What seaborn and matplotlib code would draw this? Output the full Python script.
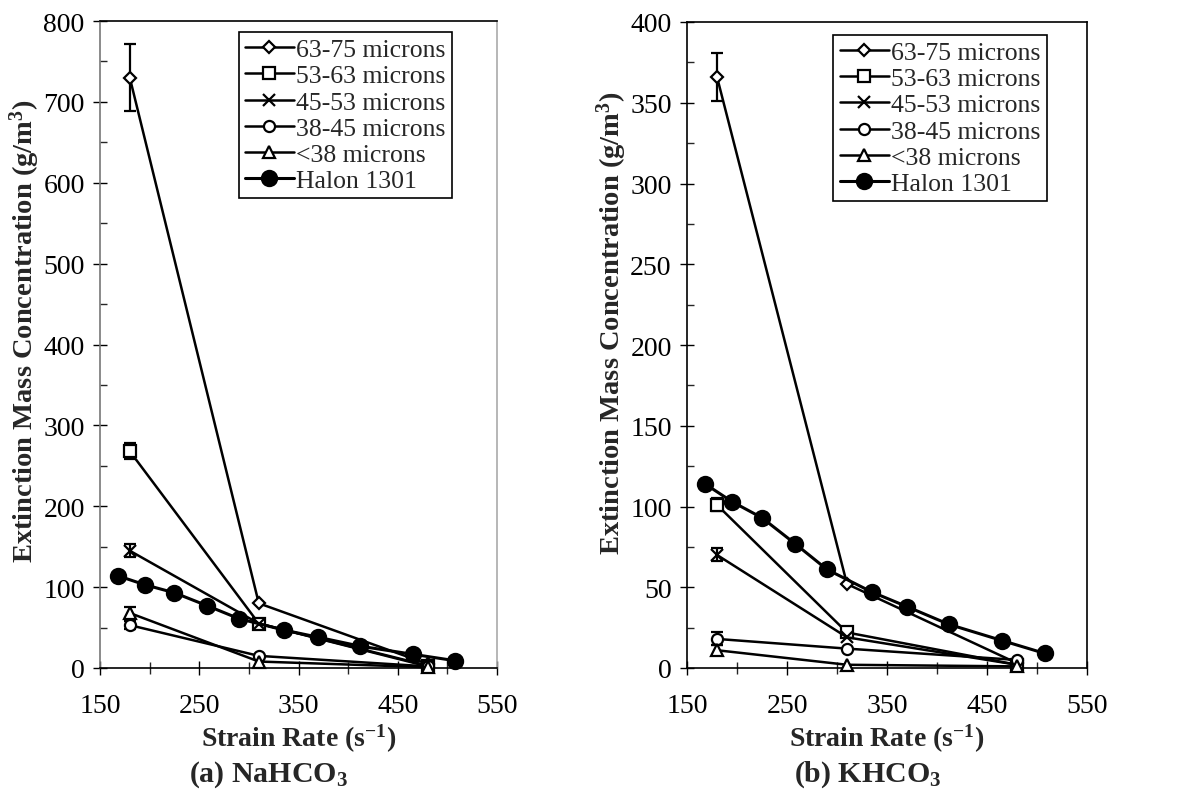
import numpy as np
import pandas as pd
import matplotlib
matplotlib.use("Agg")
import matplotlib.pyplot as plt
from matplotlib.ticker import MultipleLocator, FixedLocator
import seaborn as sns

# ---------------- data ----------------
labels = ["63-75 microns", "53-63 microns", "45-53 microns", "38-45 microns", "<38 microns", "Halon 1301"]
size_x = [180, 310, 480]

na_63_75 = [730, 80, 5]
na_53_63 = [268, 55, 3]
na_45_53 = [145, 55, 2]
na_38_45 = [53, 15, 2]
na_lt38 = [68, 8, 1]
na_err = [41, 10, 8, 5, 8]

k_63_75 = [366, 52, 3]
k_53_63 = [101, 22, 2]
k_45_53 = [70, 19, 2]
k_38_45 = [18, 12, 5]
k_lt38 = [11, 2, 1]
k_err = [15, 4, 4, 4, 3]

halon_x = [168, 195, 225, 258, 290, 335, 370, 412, 465, 508]
halon_y = [114, 103, 93, 77, 61, 47, 38, 27, 17, 9]

# ---------------- style ----------------
sns.set_style("ticks")
plt.rcParams["font.family"] = ["Liberation Serif", "DejaVu Serif"]
plt.rcParams["mathtext.fontset"] = "custom"
plt.rcParams["mathtext.rm"] = "Liberation Serif"
plt.rcParams["mathtext.bf"] = "Liberation Serif:bold"
plt.rcParams["mathtext.it"] = "Liberation Serif:italic"

markers = [
    dict(marker="D", markersize=6, markerfacecolor="white"),
    dict(marker="s", markersize=8, markerfacecolor="white"),
    dict(marker="x", markersize=9, markerfacecolor="none"),
    dict(marker="o", markersize=8, markerfacecolor="white"),
    dict(marker="^", markersize=8, markerfacecolor="white"),
    dict(marker="o", markersize=11, markerfacecolor="black"),
]

fig = plt.figure(figsize=(11.89, 8.03), dpi=100)
ax1 = fig.add_axes([100 / 1189, 1 - 669 / 803, 397 / 1189, 647 / 803])
ax2 = fig.add_axes([687 / 1189, 1 - 669 / 803, 400 / 1189, 646 / 803])


def draw(ax, series, errs, ymax, ymajor, yminor, leg_anchor, ylab_y):
    for i, ys in enumerate(series):
        df = pd.DataFrame({"x": size_x, "y": ys})
        sns.lineplot(data=df, x="x", y="y", ax=ax, color="black", linewidth=1.8,
                     markeredgecolor="black", markeredgewidth=1.6, label=labels[i],
                     clip_on=False, zorder=3, **markers[i])
        ax.errorbar([size_x[0]], [ys[0]], yerr=[errs[i]], fmt="none", ecolor="black",
                    elinewidth=1.6, capsize=4.5, capthick=1.6, zorder=2)
    dfh = pd.DataFrame({"x": halon_x, "y": halon_y})
    sns.lineplot(data=dfh, x="x", y="y", ax=ax, color="black", linewidth=2.2,
                 markeredgecolor="black", markeredgewidth=1.5, label=labels[5],
                 clip_on=False, zorder=4, **markers[5])

    ax.set_xlim(150, 550)
    ax.set_ylim(0, ymax)
    ax.xaxis.set_major_locator(FixedLocator([150, 250, 350, 450, 550]))
    ax.xaxis.set_minor_locator(FixedLocator([200, 300, 400, 500]))
    ax.yaxis.set_major_locator(MultipleLocator(ymajor))
    ax.yaxis.set_minor_locator(MultipleLocator(yminor))
    ax.tick_params(axis="both", which="major", direction="inout", length=10, width=1,
                   labelsize=20, colors="black", pad=6)
    ax.tick_params(axis="x", which="major", pad=13)
    ax.tick_params(axis="both", which="minor", direction="in", length=5, width=1)
    ax.tick_params(axis="x", which="minor", direction="inout", length=8)
    for s in ax.spines.values():
        s.set_visible(True)
        s.set_color("black")
        s.set_linewidth(1.2)
    ax.set_xlabel(r"Strain Rate (s$^{\mathbf{-1}}$)", fontsize=20, fontweight="bold", labelpad=3)
    ax.set_ylabel(r"Extinction Mass Concentration (g/m$^{\mathbf{3}}$)", fontsize=20.5,
                  fontweight="bold", labelpad=1)
    ax.yaxis.label.set_y(ylab_y)
    leg = ax.legend(loc="upper right", bbox_to_anchor=leg_anchor, fontsize=18.5,
                    frameon=True, fancybox=False, edgecolor="black", framealpha=1,
                    handlelength=1.9, handletextpad=0.1, borderpad=0.25, labelspacing=0.12,
                    numpoints=1, borderaxespad=0)
    leg.get_frame().set_linewidth(1.2)


draw(ax1, [na_63_75, na_53_63, na_45_53, na_38_45, na_lt38], na_err, 800, 100, 50,
     (0.887, 0.983), 0.522)
draw(ax2, [k_63_75, k_53_63, k_45_53, k_38_45, k_lt38], k_err, 400, 50, 25,
     (0.90, 0.98), 0.535)
ax1.spines["right"].set_color("#aaaaaa")
ax1.spines["left"].set_color("#777777")

fig.text(268 / 1189, 1 - 775 / 803, r"(a) NaHCO$_\mathbf{3}$", ha="center", va="center",
         fontsize=21.5, fontweight="bold")
fig.text(868 / 1189, 1 - 775 / 803, r"(b) KHCO$_\mathbf{3}$", ha="center", va="center",
         fontsize=21.5, fontweight="bold")

fig.savefig("out.png", dpi=100, facecolor="white")
